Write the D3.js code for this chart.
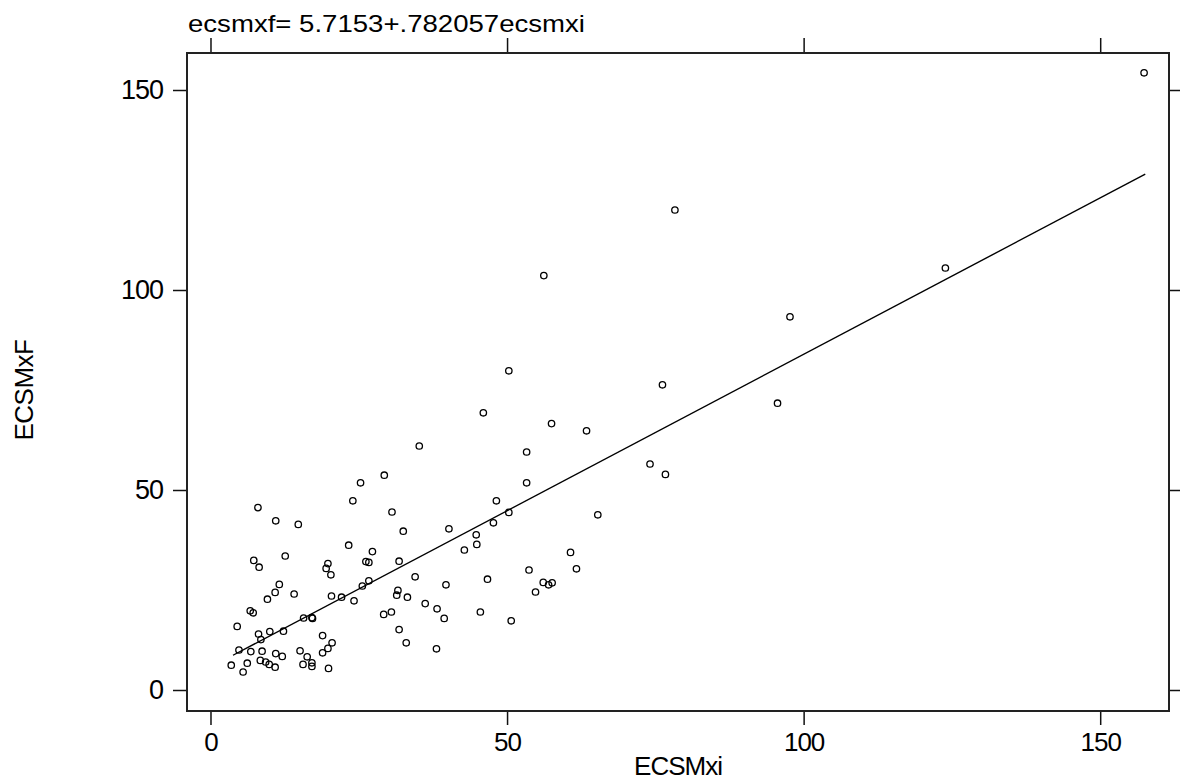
<!DOCTYPE html>
<html>
<head>
<meta charset="utf-8">
<script src="https://cdn.jsdelivr.net/npm/d3@7"></script>
<style>
  body { margin: 0; background: #fff; }
  svg text { font-family: "Liberation Sans", Arial, Helvetica, sans-serif; fill: #000; }
</style>
</head>
<body>
<div id="chart"></div>
<script>
// ecsmxi vs ecsmxf
var xi = [25.3, 24.0, 8.0, 30.6, 11.0, 14.8, 32.5, 23.3, 27.3, 12.6,
    7.3, 26.2, 26.7, 19.8, 31.8, 8.2, 19.5, 20.3, 34.5, 11.6,
    26.7, 10.9, 25.6, 31.6, 31.4, 14.1, 20.4, 22.1, 33.2, 9.6,
    24.2, 36.2, 38.2, 6.7, 7.2, 29.2, 30.5, 15.7, 17.1, 17.2,
    4.5, 31.8, 8.1, 10.0, 12.3, 8.5, 18.9, 33.0, 20.5, 19.8,
    38.1, 4.8, 6.8, 8.7, 11.0, 12.1, 15.1, 16.3, 18.9, 8.4,
    9.3, 9.9, 10.9, 6.2, 3.5, 5.5, 15.6, 17.1, 17.1, 19.9,
    46.0, 57.5, 63.4, 35.2, 53.3, 29.3, 53.3, 48.2, 50.3, 65.3,
    47.7, 40.2, 44.8, 44.9, 42.8, 60.7, 61.7, 53.7, 46.7, 39.7,
    56.1, 57.0, 57.6, 54.8, 45.5, 39.4, 50.7, 76.2, 95.6, 74.1,
    76.7, 56.2, 50.3, 97.7, 157.4, 123.9, 78.3];
var xf = [51.8, 47.3, 45.6, 44.5, 42.3, 41.4, 39.7, 36.2, 34.6, 33.5,
    32.4, 32.1, 31.9, 31.6, 32.2, 30.7, 30.4, 28.8, 28.3, 26.4,
    27.3, 24.4, 26.0, 24.9, 23.7, 24.0, 23.5, 23.2, 23.2, 22.7,
    22.3, 21.6, 20.3, 19.8, 19.3, 18.9, 19.5, 18.0, 18.1, 17.9,
    15.9, 15.1, 14.0, 14.6, 14.7, 12.6, 13.6, 11.8, 11.8, 10.4,
    10.3, 10.0, 9.6, 9.7, 9.1, 8.4, 9.8, 8.3, 9.3, 7.4,
    7.0, 6.4, 5.7, 6.7, 6.2, 4.5, 6.4, 6.8, 5.9, 5.4,
    69.3, 66.6, 64.8, 61.0, 59.5, 53.7, 51.8, 47.3, 44.4, 43.8,
    41.8, 40.3, 38.8, 36.4, 35.0, 34.4, 30.3, 30.0, 27.7, 26.3,
    26.9, 26.3, 26.8, 24.5, 19.5, 17.9, 17.3, 76.3, 71.7, 56.5,
    53.9, 103.6, 79.8, 93.3, 154.3, 105.5, 120.0];

// fitted line: intercept, slope
var fit = [5.7153, 0.782057];
var xTicks = [0, 50, 100, 150];
var yTicks = [0, 50, 100, 150];
var titleText = "ecsmxf= 5.7153+.782057ecsmxi";
var xLabel = "ECSMxi";
var yLabel = "ECSMxF";

var width = 1180, height = 780;
var margin = { top: 53, right: 11, bottom: 69, left: 187 };
var plotW = width - margin.left - margin.right;
var plotH = height - margin.top - margin.bottom;

var svg = d3.select("#chart").append("svg")
    .attr("width", width)
    .attr("height", height);

var g = svg.append("g")
    .attr("transform", `translate(${margin.left},${margin.top})`);

var x = d3.scaleLinear().domain([-3.96, 161.6]).range([0, plotW]);
var y = d3.scaleLinear().domain([-5.25, 159.25]).range([plotH, 0]);

var points = xi.map(function (d, i) { return { xi: d, xf: xf[i] }; });

// axes, ticks outside the frame
var axisStyle = function (sel, size) {
    sel.select(".domain").remove();
    sel.selectAll(".tick line").attr("stroke", "#111").attr("stroke-width", 1.5);
    sel.selectAll(".tick text")
        .style("font-size", size + "px")
        .style("letter-spacing", "-1px")
        .attr("fill", "#000");
};

g.append("g")
    .attr("transform", `translate(0,${plotH})`)
    .call(d3.axisBottom(x).tickValues(xTicks).tickSize(14).tickPadding(8).tickFormat(d3.format("d")))
    .call(axisStyle, 26);

g.append("g")
    .call(d3.axisLeft(y).tickValues(yTicks).tickSize(14).tickPadding(10).tickFormat(d3.format("d")))
    .call(axisStyle, 27);

g.append("g")
    .call(d3.axisTop(x).tickValues(xTicks).tickSize(15).tickFormat(""))
    .call(axisStyle, 26);

g.append("g")
    .attr("transform", `translate(${plotW},0)`)
    .call(d3.axisRight(y).tickValues(yTicks).tickSize(11).tickFormat(""))
    .call(axisStyle, 26);

// frame
g.append("rect")
    .attr("width", plotW)
    .attr("height", plotH)
    .attr("fill", "none")
    .attr("stroke", "#222")
    .attr("stroke-width", 2);

// regression line over the range of xi
var xr = d3.extent(xi);
var line = d3.line()
    .x(function (d) { return x(d); })
    .y(function (d) { return y(fit[0] + fit[1] * d); });

g.append("path")
    .datum([xr[0] + 0.3, xr[1] + 0.2])
    .attr("d", line)
    .attr("fill", "none")
    .attr("stroke", "#000")
    .attr("stroke-width", 1.4);

g.selectAll("circle.pt")
    .data(points)
    .enter()
    .append("circle")
    .attr("class", "pt")
    .attr("cx", function (d) { return x(d.xi); })
    .attr("cy", function (d) { return y(d.xf); })
    .attr("r", 3.2)
    .attr("fill", "none")
    .attr("stroke", "#000")
    .attr("stroke-width", 1.3);

// titles
svg.append("text")
    .attr("x", 188)
    .attr("y", 32)
    .attr("textLength", 397)
    .attr("lengthAdjust", "spacingAndGlyphs")
    .style("font-size", "24px")
    .text(titleText);

svg.append("text")
    .attr("x", margin.left + plotW / 2)
    .attr("y", 775)
    .attr("text-anchor", "middle")
    .style("font-size", "26px")
    .style("letter-spacing", "-1px")
    .text(xLabel);

svg.append("text")
    .attr("transform", "translate(33,390) rotate(-90)")
    .attr("text-anchor", "middle")
    .style("font-size", "26px")
    .style("letter-spacing", "-0.5px")
    .text(yLabel);
</script>
</body>
</html>
